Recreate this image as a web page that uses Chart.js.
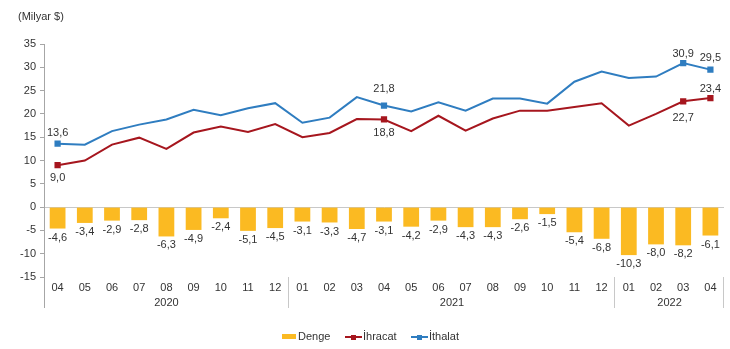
<!DOCTYPE html>
<html>
<head>
<meta charset="utf-8">
<script src="https://cdn.jsdelivr.net/npm/chart.js@4"></script>
<style>
  html, body { margin: 0; padding: 0; background: #fff; }
  #wrap { position: relative; width: 730px; height: 349px; }
</style>
</head>
<body>
<div id="wrap"><canvas id="chart" width="730" height="349"></canvas></div>
<script>
// months and years (x axis)
const months = ['04', '05', '06', '07', '08', '09', '10', '11', '12',
  '01', '02', '03', '04', '05', '06', '07', '08', '09', '10', '11', '12',
  '01', '02', '03', '04'];
const yearLabels = ['2020', '2021', '2022'];
const yearSpans = [9, 12, 4]; // number of months under each year

// values, billion $
const denge = [-4.6, -3.4, -2.9, -2.8, -6.3, -4.9, -2.4, -5.1, -4.5,
  -3.1, -3.3, -4.7, -3.1, -4.2, -2.9, -4.3, -4.3, -2.6, -1.5, -5.4, -6.8,
  -10.3, -8.0, -8.2, -6.1];
const ihracat = [9.0, 10.0, 13.4, 14.9, 12.5, 16.0, 17.3, 16.1, 17.8,
  15.0, 15.9, 18.9, 18.8, 16.3, 19.6, 16.4, 19.0, 20.7, 20.7, 21.5, 22.3,
  17.5, 20.0, 22.7, 23.4];
const ithalat = [13.6, 13.4, 16.3, 17.7, 18.8, 20.9, 19.7, 21.2, 22.3,
  18.1, 19.2, 23.6, 21.8, 20.5, 22.5, 20.7, 23.3, 23.3, 22.2, 26.9, 29.1,
  27.7, 28.0, 30.9, 29.5];

// which points of the lines get a marker and a label
const markedPoints = [0, 12, 23, 24];

const yTicksMin = -15;
const yTicksMax = 35;
const yTicksStep = 5;

const FONT = '"Liberation Sans", Arial, sans-serif';
const TEXT = '#333333';
const YELLOW = '#FBBA22';
const RED = '#A6161E';
const BLUE = '#2F7DC0';

const fmt = v => v.toFixed(1).replace('.', ',');

// label placement for line points: dataset index -> point index -> offset (px, + is down)
const lineLabelOffset = {
  1: { 0: 13, 12: 13, 23: 17, 24: -9 },
  2: { 0: -11, 12: -17, 23: -9, 24: -12 }
};

const labelsPlugin = {
  id: 'labels',
  afterDatasetsDraw(chart) {
    const ctx = chart.ctx;
    ctx.save();
    ctx.font = '11px ' + FONT;
    ctx.fillStyle = TEXT;
    ctx.textAlign = 'center';
    ctx.textBaseline = 'middle';
    // bar labels below the bars
    chart.getDatasetMeta(0).data.forEach((bar, i) => {
      ctx.fillText(fmt(denge[i]), bar.x, bar.y + 9);
    });
    // line labels at marked points
    [1, 2].forEach(d => {
      const meta = chart.getDatasetMeta(d);
      const vals = chart.data.datasets[d].data;
      markedPoints.forEach(i => {
        const p = meta.data[i];
        ctx.fillText(fmt(vals[i]), p.x, p.y + lineLabelOffset[d][i]);
      });
    });
    ctx.restore();
  }
};

const decorPlugin = {
  id: 'decor',
  afterDraw(chart) {
    const ctx = chart.ctx;
    const area = chart.chartArea;
    const bottom = 308;
    ctx.save();
    // axis line continued through label area
    ctx.strokeStyle = '#a6a6a6';
    ctx.lineWidth = 1;
    ctx.beginPath();
    ctx.moveTo(Math.round(area.left) + 0.5, area.top);
    ctx.lineTo(Math.round(area.left) + 0.5, bottom);
    ctx.stroke();
    // year separators and labels
    const step = (area.right - area.left) / months.length;
    let start = 0;
    ctx.font = '11px ' + FONT;
    ctx.fillStyle = TEXT;
    ctx.textAlign = 'center';
    ctx.textBaseline = 'middle';
    yearLabels.forEach((yl, k) => {
      const end = start + yearSpans[k];
      const x0 = area.left + start * step;
      const x1 = area.left + end * step;
      ctx.strokeStyle = '#c8c8c8';
      ctx.beginPath();
      ctx.moveTo(Math.round(x1) - 0.5, area.bottom);
      ctx.lineTo(Math.round(x1) - 0.5, bottom);
      ctx.stroke();
      ctx.fillText(yl, (x0 + x1) / 2, 303);
      start = end;
    });
    // unit title
    ctx.textAlign = 'left';
    ctx.fillText('(Milyar $)', 18, 17);

    // legend
    const ly = 337;
    ctx.fillStyle = YELLOW;
    ctx.fillRect(282, ly - 3, 14, 5);
    ctx.fillStyle = TEXT;
    ctx.fillText('Denge', 298, ly);
    [[RED, 345, 'İhracat'], [BLUE, 411, 'İthalat']].forEach(([c, lx, t]) => {
      ctx.strokeStyle = c;
      ctx.lineWidth = 2;
      ctx.beginPath();
      ctx.moveTo(lx, ly);
      ctx.lineTo(lx + 17, ly);
      ctx.stroke();
      ctx.fillStyle = c;
      ctx.fillRect(lx + 6, ly - 2, 5, 5);
      ctx.fillStyle = TEXT;
      ctx.fillText(t, lx + 18, ly);
    });
    ctx.restore();
  }
};

const pointRadius = months.map((_, i) => markedPoints.includes(i) ? 3 : 0);

new Chart(document.getElementById('chart'), {
  type: 'bar',
  data: {
    labels: months,
    datasets: [
      {
        type: 'bar',
        label: 'Denge',
        data: denge,
        backgroundColor: YELLOW,
        barPercentage: 0.58,
        categoryPercentage: 1,
        order: 3
      },
      {
        type: 'line',
        label: 'İhracat',
        data: ihracat,
        borderColor: RED,
        backgroundColor: RED,
        borderWidth: 2,
        pointStyle: 'rect',
        pointRadius: pointRadius,
        tension: 0,
        order: 2
      },
      {
        type: 'line',
        label: 'İthalat',
        data: ithalat,
        borderColor: BLUE,
        backgroundColor: BLUE,
        borderWidth: 2,
        pointStyle: 'rect',
        pointRadius: pointRadius,
        tension: 0,
        order: 1
      }
    ]
  },
  options: {
    responsive: false,
    animation: false,
    layout: { padding: { top: 44, right: 1, left: 0, bottom: 0 } },
    plugins: {
      legend: { display: false },
      tooltip: { enabled: false }
    },
    scales: {
      x: {
        grid: { display: false, drawTicks: false },
        border: { display: false },
        ticks: {
          font: { family: FONT, size: 11 },
          color: TEXT,
          padding: 4,
          maxRotation: 0,
          autoSkip: false
        },
        afterFit(scale) { scale.height = 72; }
      },
      y: {
        min: yTicksMin,
        max: yTicksMax,
        ticks: {
          stepSize: yTicksStep,
          font: { family: FONT, size: 11 },
          color: TEXT,
          padding: 4
        },
        grid: {
          color: c => (c.tick && c.tick.value === 0) ? '#c8c8c8' : 'rgba(0,0,0,0)',
          tickColor: '#a6a6a6',
          tickLength: 4
        },
        border: { display: true, color: '#a6a6a6' },
        afterFit(scale) { scale.width = 44; }
      }
    }
  },
  plugins: [labelsPlugin, decorPlugin]
});
</script>
</body>
</html>
